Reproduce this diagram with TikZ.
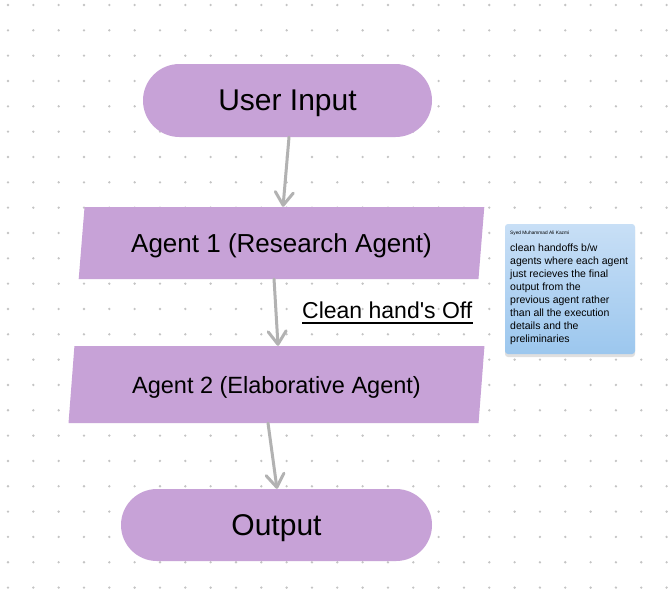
\documentclass[tikz,border=0pt]{standalone}
\usepackage{fontspec}
\setmainfont{Liberation Sans}
\usepackage{xcolor}
\usetikzlibrary{arrows.meta,positioning,shapes.geometric,shapes.misc,shadows}

\begin{document}
\begin{tikzpicture}[x=1pt,y=-1pt]
\definecolor{flow}{HTML}{C7A2D7}
\definecolor{link}{HTML}{B2B2B2}
\definecolor{dot}{HTML}{C4C4C4}
\definecolor{notetop}{HTML}{C8DFF6}
\definecolor{notebot}{HTML}{9CC7EE}
\tikzset{
  terminal/.style={shape=rounded rectangle,fill=flow,draw=none,inner sep=0pt,text depth=0pt},
  agentbox/.style={shape=trapezium,trapezium stretches=true,fill=flow,draw=none,inner sep=0pt,text depth=0pt},
  flowarrow/.style={-{Straight Barb[length=13pt,width=18pt,round]},link,line width=3pt,line cap=round}
}
\useasboundingbox (0,0) rectangle (671,598);
\fill[white] (0,0) rectangle (671,598);

% Dotted canvas grid
\foreach \i in {0,...,26} {
  \foreach \j in {0,...,23} {
    \fill[dot] (8+25.33*\i,5+25.33*\j) circle (1.3pt);
  }
}

% Flow chart blocks
\node[terminal,minimum width=289pt,minimum height=73pt] (ui) at (287.5,100.5) {\fontsize{30}{36}\selectfont User Input};
\node[agentbox,trapezium left angle=76.7,trapezium right angle=103.3,minimum width=407pt,minimum height=72pt] (a1) at (281.5,243) {\fontsize{26}{31}\selectfont Agent 1 (Research Agent)};
\node[agentbox,trapezium left angle=76.1,trapezium right angle=103.9,minimum width=417pt,minimum height=77pt] (a2) at (276.5,384.5) {\fontsize{23.5}{28}\selectfont Agent 2 (Elaborative Agent)};
\node[terminal,minimum width=311pt,minimum height=72pt] (out) at (276.5,525) {\fontsize{30}{36}\selectfont Output};

% Connectors
\draw[flowarrow] ([xshift=1.5pt]ui.south) -- ([xshift=1.5pt]a1.north);
\draw[flowarrow] ([xshift=-7.5pt]a1.south) -- ([xshift=1.5pt]a2.north);
\draw[flowarrow] ([xshift=-8.5pt]a2.south) -- ([xshift=0.5pt]out.north);

% Label on the hand off
\node[anchor=base west,inner sep=0pt] (hand) at (302,318) {\fontsize{23}{28}\selectfont Clean hand\textquotesingle s Off};
\draw[line width=1.5pt] ([yshift=-5pt]hand.base west) -- ([yshift=-5pt]hand.base east);

% Sticky note
\node[draw=none,rounded corners=3pt,top color=notetop,bottom color=notebot,
      minimum width=130pt,minimum height=130pt,
      drop shadow={shadow xshift=0pt,shadow yshift=-3pt,opacity=0.25}] (note) at (570,289) {};
\node[anchor=base west,inner sep=0pt] (author) at (510,234) {\fontsize{4.8}{6}\selectfont Syed Muhammad Ali Kazmi};
\node[anchor=north west,inner sep=0pt,align=left,font=\fontsize{10.5}{12.95}\selectfont] (memo) at (510,244)
  {clean handoffs b/w\\ agents where each agent\\ just recieves the final\\ output from the\\ previous agent rather\\ than all the execution\\ details and the\\ preliminaries};
\end{tikzpicture}
\end{document}
